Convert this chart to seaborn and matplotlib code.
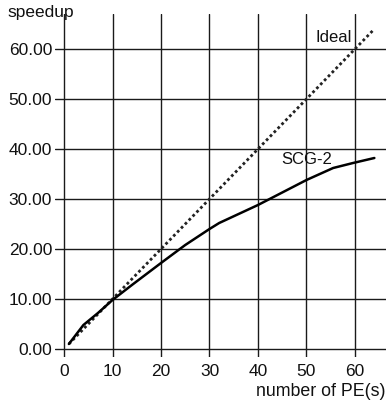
import matplotlib
matplotlib.use("Agg")
import matplotlib.pyplot as plt
import seaborn as sns
import pandas as pd

sns.set_theme(style="white")
plt.rcParams['font.family'] = ['Liberation Sans', 'DejaVu Sans']

# Data
pe_ideal = [1, 64]
speedup_ideal = [1, 64]

pe_scg = [1, 4, 7, 10, 14, 20, 25, 30, 32, 40, 42, 50, 55.5, 59.6, 64]
speedup_scg = [1, 4.8, 7.2, 9.8, 12.8, 17.2, 20.8, 24.0, 25.2, 28.8, 29.8, 33.8, 36.2, 37.2, 38.2]

x_ticks = [0, 10, 20, 30, 40, 50, 60]
y_ticks = [0, 10, 20, 30, 40, 50, 60]
y_tick_labels = ["0.00", "10.00", "20.00", "30.00", "40.00", "50.00", "60.00"]

df_ideal = pd.DataFrame({"pe": pe_ideal, "speedup": speedup_ideal})
df_scg = pd.DataFrame({"pe": pe_scg, "speedup": speedup_scg})

fig = plt.figure(figsize=(3.86, 4.07), dpi=100)
ax = fig.add_axes([55/386, 50/407, 331/386, 343/407])

sns.lineplot(data=df_ideal, x="pe", y="speedup", ax=ax, color="#222222",
             linestyle=(0, (1, 1)), linewidth=2.0)
sns.lineplot(data=df_scg, x="pe", y="speedup", ax=ax, color="black",
             linewidth=1.8)

ax.set_xlim(-1.86, 66.4)
ax.set_ylim(-1.6, 67)
ax.set_xticks(x_ticks)
ax.set_yticks(y_ticks)
ax.set_yticklabels(y_tick_labels)
ax.grid(True, color="#1a1a1a", linewidth=1.0)
ax.set_axisbelow(True)
for s in ax.spines.values():
    s.set_visible(False)
ax.tick_params(axis="both", length=0, labelsize=12.5, colors="#111111")
ax.tick_params(axis="y", pad=2)
ax.tick_params(axis="x", pad=5)
ax.set_xlabel("")
ax.set_ylabel("")

ax.text(55.7, 62.2, "Ideal", fontsize=12, ha="center", va="center", color="#111111")
ax.text(50.1, 37.8, "SCG-2", fontsize=12, ha="center", va="center", color="#111111")

fig.text(7/386, 1 - 12/407, "speedup", fontsize=12.5, ha="left", va="center", color="#111111")
fig.text(385/386, 1 - 391/407, "number of PE(s)", fontsize=12.8, ha="right", va="center", color="#111111")

fig.savefig("out.png", dpi=100)
